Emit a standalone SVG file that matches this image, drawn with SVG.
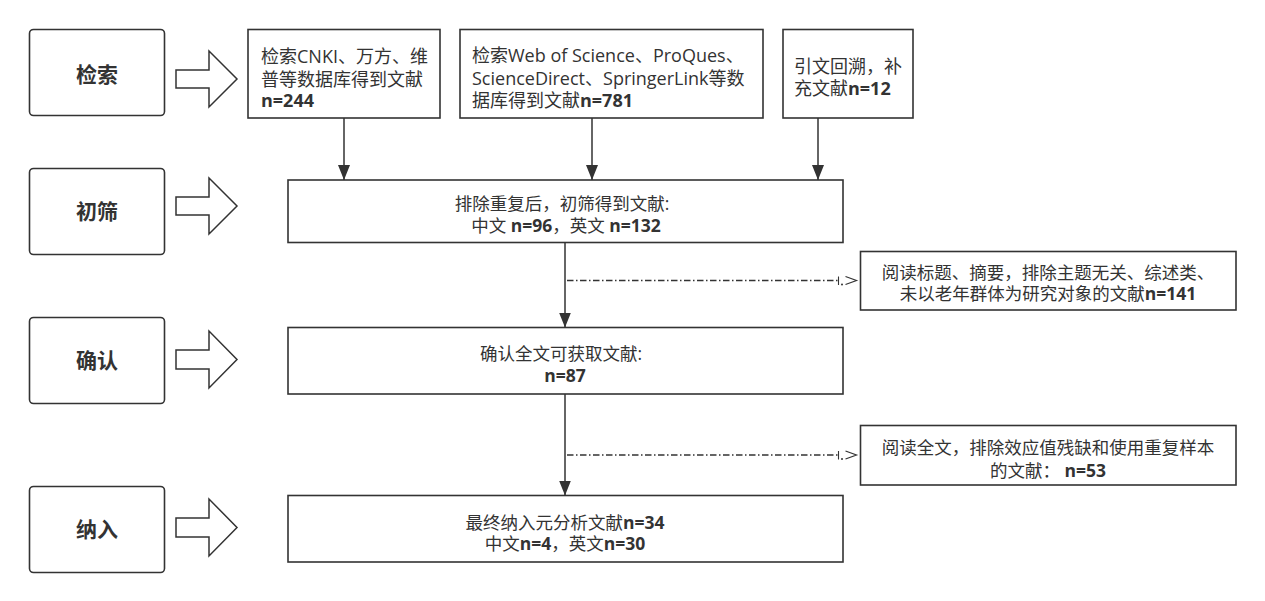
<svg xmlns="http://www.w3.org/2000/svg" width="1265" height="601" viewBox="0 0 1265 601">
<style>
  .stage{fill:#fff;stroke:#333;stroke-width:1.6}
  .box{fill:#fff;stroke:#333;stroke-width:1.6}
  .blk{fill:#fff;stroke:#333;stroke-width:1.5;stroke-linejoin:miter}
  text{font-family:"Open Sans","Noto Sans CJK SC",sans-serif;fill:#333}
  .lbl{font-size:21px;font-weight:bold;text-anchor:middle}
  .t18{font-size:18px}
  .t17{font-size:17.5px}
  .mid{text-anchor:middle}
  .b{font-weight:bold}
  .conn{stroke:#333;stroke-width:1.5;fill:none}
  .dash{stroke:#333;stroke-width:1.3;fill:none;stroke-dasharray:6.5 2.5 1.5 2.5}
</style>
<defs>
  <marker id="ah" markerWidth="15" markerHeight="12" refX="15" refY="6" orient="auto" markerUnits="userSpaceOnUse" viewBox="0 0 15 12">
    <path d="M0,0 L15,6 L0,12 Z" fill="#333"/>
  </marker>
  <g id="dend">
    <line x1="0" y1="-4" x2="0" y2="4.5" stroke="#333" stroke-width="1.1"/>
    <circle cx="3.5" cy="4" r="1" fill="#333"/>
    <path d="M7,-4 L18,0 L7,4" fill="none" stroke="#333" stroke-width="1.2"/>
  </g>
</defs>

<g id="stage-jiansuo">
  <rect class="stage" x="29.5" y="29.5" width="135" height="86" rx="4"/>
  <text class="lbl" x="97" y="82">检索</text>
  <path class="blk" d="M176,70 L209,70 L209,51 L237,79 L209,107 L209,88 L176,88 Z"/>
</g>
<g id="stage-chushai">
  <rect class="stage" x="29.5" y="168.5" width="135" height="86" rx="4"/>
  <text class="lbl" x="97" y="219">初筛</text>
  <path class="blk" d="M176,197 L209,197 L209,178 L237,206 L209,234 L209,215 L176,215 Z"/>
</g>
<g id="stage-queren">
  <rect class="stage" x="29.5" y="317.5" width="135" height="86" rx="4"/>
  <text class="lbl" x="97" y="368">确认</text>
  <path class="blk" d="M176,350 L209,350 L209,331 L237,359.5 L209,388 L209,369 L176,369 Z"/>
</g>
<g id="stage-naru">
  <rect class="stage" x="29.5" y="486.5" width="135" height="86" rx="4"/>
  <text class="lbl" x="97" y="537">纳入</text>
  <path class="blk" d="M176,518 L209,518 L209,499 L237,527.5 L209,556 L209,537 L176,537 Z"/>
</g>

<g id="src-cnki">
  <rect class="box" x="248" y="29.5" width="192" height="88.5"/>
  <text class="t18" x="261" y="62.5">检索CNKI、万方、维</text>
  <text class="t18" x="261" y="85.5">普等数据库得到文献</text>
  <text class="t18 b" x="261" y="106.5">n=244</text>
</g>
<g id="src-wos">
  <rect class="box" x="460" y="29.5" width="303" height="88.5"/>
  <text class="t18" x="472" y="62">检索Web of Science、ProQues、</text>
  <text class="t18" x="472" y="85">ScienceDirect、SpringerLink等数</text>
  <text class="t18" x="472" y="107">据库得到文献<tspan class="b">n=781</tspan></text>
</g>
<g id="src-cite">
  <rect class="box" x="783" y="29.5" width="130" height="88.5"/>
  <text class="t18" x="794" y="73">引文回溯，补</text>
  <text class="t18" x="794" y="94.5">充文献<tspan class="b">n=12</tspan></text>
</g>

<g id="screen">
  <rect class="box" x="288" y="180" width="555" height="62.5"/>
  <text class="t17 mid" x="562" y="209.5">排除重复后，初筛得到文献:</text>
  <text class="t17 mid" x="566" y="231.5">中文 <tspan class="b">n=96</tspan>，英文 <tspan class="b">n=132</tspan></text>
</g>
<g id="confirm">
  <rect class="box" x="288" y="327.5" width="555" height="66.5"/>
  <text class="t17 mid" x="561" y="359.5">确认全文可获取文献:</text>
  <text class="t17 mid b" x="565" y="381.5">n=87</text>
</g>
<g id="include">
  <rect class="box" x="288" y="495.5" width="555" height="66.5"/>
  <text class="t17 mid" x="565" y="528.5">最终纳入元分析文献<tspan class="b">n=34</tspan></text>
  <text class="t17 mid" x="565" y="549.5">中文<tspan class="b">n=4</tspan>，英文<tspan class="b">n=30</tspan></text>
</g>

<g id="excl-1">
  <rect class="box" x="860.5" y="251.5" width="375.5" height="58.5"/>
  <text class="t17 mid" x="1048" y="279">阅读标题、摘要，排除主题无关、综述类、</text>
  <text class="t17 mid" x="1048" y="300">未以老年群体为研究对象的文献<tspan class="b">n=141</tspan></text>
</g>
<g id="excl-2">
  <rect class="box" x="860.5" y="425.5" width="375.5" height="59.5"/>
  <text class="t17 mid" x="1048" y="454">阅读全文，排除效应值残缺和使用重复样本</text>
  <text class="t17 mid" x="1048" y="476.5">的文献：  <tspan class="b">n=53</tspan></text>
</g>

<g id="connectors">
  <line class="conn" x1="344" y1="118" x2="344" y2="180" marker-end="url(#ah)"/>
  <line class="conn" x1="592" y1="118" x2="592" y2="180" marker-end="url(#ah)"/>
  <line class="conn" x1="818" y1="118" x2="818" y2="180" marker-end="url(#ah)"/>
  <line class="conn" x1="565" y1="242.5" x2="565" y2="327.5" marker-end="url(#ah)"/>
  <line class="conn" x1="565" y1="394" x2="565" y2="495.5" marker-end="url(#ah)"/>
  <line class="dash" x1="567" y1="280.5" x2="838" y2="280.5"/>
  <use href="#dend" x="838.5" y="280.5"/>
  <line class="dash" x1="567" y1="455" x2="838" y2="455"/>
  <use href="#dend" x="838.5" y="455"/>
</g>
</svg>
